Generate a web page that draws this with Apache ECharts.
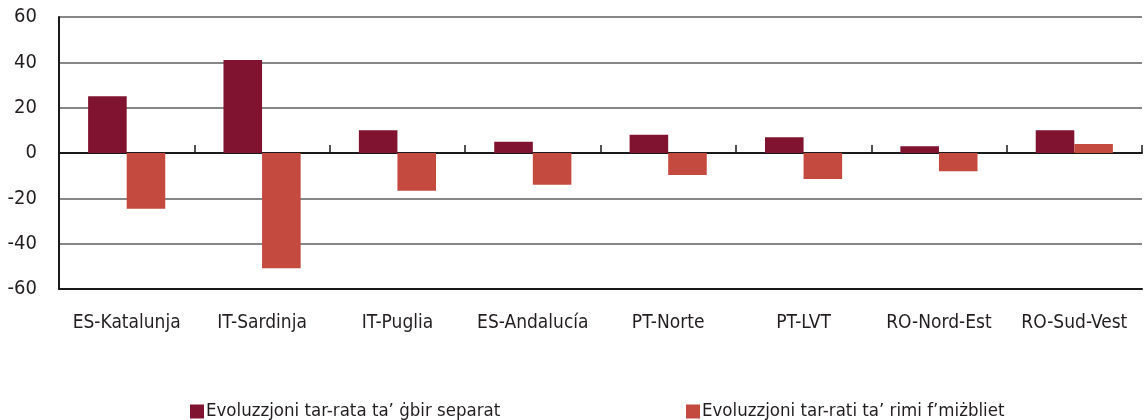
<!DOCTYPE html>
<html>
<head>
<meta charset="utf-8">
<script src="https://cdn.jsdelivr.net/npm/echarts@6/dist/echarts.min.js"></script>
<style>
  html, body { margin: 0; padding: 0; background: #fff; }
  #chart { width: 1146px; height: 420px; }
</style>
</head>
<body>
<div id="chart"></div>
<script>
const categories = ["ES-Katalunja", "IT-Sardinja", "IT-Puglia", "ES-Andalucía", "PT-Norte", "PT-LVT", "RO-Nord-Est", "RO-Sud-Vest"];
const seriesNames = ["Evoluzzjoni tar-rata ta’ ġbir separat", "Evoluzzjoni tar-rati ta’ rimi f’miżbliet"];
const separateCollection = [25, 41, 10, 5, 8, 7, 3, 10];
const landfillRate = [-24.6, -50.8, -16.6, -14, -9.7, -11.5, -8, 4];
const yTicks = { min: -60, max: 60, interval: 20 };

const FONT = '"Liberation Sans Narrow", "DejaVu Sans Condensed", "Noto Sans", sans-serif';
const TEXT = "#231f20";
const Colors = ["#80132f", "#c4493f"];

const myChart = echarts.init(document.getElementById("chart"), null, { renderer: "canvas" });

const legendItem = (name, left) => ({
  data: [name],
  left: left,
  top: 397,
  itemWidth: 14,
  itemHeight: 14,
  itemGap: 0,
  icon: "rect",
  textStyle: { fontFamily: FONT, fontSize: 18.5, color: TEXT, padding: [0, 0, 0, -3] }
});

const option = {
  animation: false,
  textStyle: { fontFamily: FONT, color: TEXT },
  grid: [
    { left: 59, right: 4, top: 17, bottom: 131, containLabel: false },
    // upper half only: its bottom edge is the zero line, ticks point up from it
    { left: 59, right: 4, top: 17, bottom: 267, containLabel: false }
  ],
  legend: [legendItem(seriesNames[0], 185), legendItem(seriesNames[1], 681)],
  xAxis: [
    {
      type: "category",
      gridIndex: 0,
      data: categories,
      position: "bottom",
      axisLine: { onZero: false, lineStyle: { color: "#1a1a1a", width: 2 } },
      axisTick: { show: false },
      axisLabel: { margin: 25, fontFamily: FONT, fontSize: 19, color: TEXT, interval: 0 }
    },
    {
      type: "category",
      gridIndex: 1,
      data: categories,
      position: "bottom",
      axisLine: { onZero: false, lineStyle: { color: "#1a1a1a", width: 2 } },
      axisTick: { show: true, inside: true, length: 8, lineStyle: { color: "#1a1a1a", width: 1.5 } },
      axisLabel: { show: false },
      splitLine: { show: false }
    }
  ],
  yAxis: [
    {
      type: "value",
      gridIndex: 0,
      min: yTicks.min,
      max: yTicks.max,
      interval: yTicks.interval,
      axisLine: { show: true, lineStyle: { color: "#1a1a1a", width: 2 } },
      axisTick: { show: false },
      axisLabel: { margin: 22, fontFamily: FONT, fontSize: 20, color: TEXT },
      splitLine: { show: true, lineStyle: { color: "#5f5f5f", width: 1.5 } }
    },
    {
      type: "value",
      gridIndex: 1,
      min: 0,
      max: yTicks.max,
      show: false
    }
  ],
  series: [
    {
      name: seriesNames[0],
      type: "bar",
      xAxisIndex: 0,
      yAxisIndex: 0,
      data: separateCollection,
      barGap: "0%",
      barCategoryGap: "43%",
      itemStyle: { color: Colors[0] }
    },
    {
      name: seriesNames[1],
      type: "bar",
      xAxisIndex: 0,
      yAxisIndex: 0,
      data: landfillRate,
      barGap: "0%",
      barCategoryGap: "43%",
      itemStyle: { color: Colors[1] }
    }
  ]
};

myChart.setOption(option);
window.addEventListener("resize", () => myChart.resize());
</script>
</body>
</html>
